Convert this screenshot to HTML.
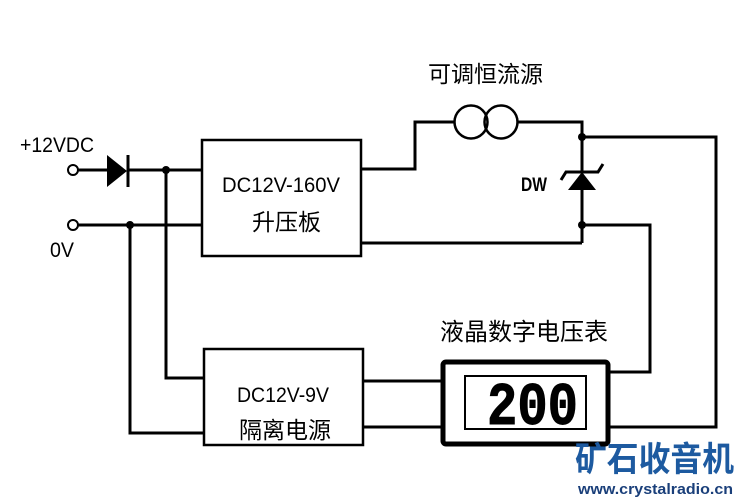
<!DOCTYPE html>
<html><head><meta charset="utf-8"><style>
html,body{margin:0;padding:0;background:#fff;}
svg{display:block;}
text{font-family:"Liberation Sans","Noto Sans CJK SC",sans-serif;fill:#000;}
</style></head><body>
<svg width="742" height="500" viewBox="0 0 742 500" xmlns="http://www.w3.org/2000/svg">
<g stroke="#000" stroke-width="3" fill="none">
<circle cx="73" cy="170" r="5" stroke-width="2"/>
<circle cx="73" cy="225" r="5" stroke-width="2"/>
<line x1="78" y1="170" x2="107" y2="170"/>
<line x1="128" y1="170" x2="202" y2="170"/>
<line x1="78" y1="225" x2="202" y2="225"/>
<line x1="128" y1="155" x2="128" y2="187"/>
<polyline points="166,170 166,378 204,378"/>
<polyline points="130,225 130,433 204,433"/>
<rect x="202" y="140" width="159" height="116" stroke-width="2.5"/>
<rect x="204" y="349" width="159" height="96" stroke-width="2.5"/>
<polyline points="362,169 415,169 415,122 455,122"/>
<polyline points="518,122 582,122 582,172"/>
<line x1="582" y1="190" x2="582" y2="243"/>
<line x1="362" y1="243" x2="582" y2="243"/>
<circle cx="471" cy="122" r="16.5" stroke-width="2.5"/>
<circle cx="501" cy="122" r="16.5" stroke-width="2.5"/>
<polyline points="582,137 716,137 716,427 610,427"/>
<polyline points="582,225 650,225 650,372 610,372"/>
<line x1="363" y1="381" x2="441" y2="381"/>
<line x1="363" y1="427" x2="441" y2="427"/>
<polyline points="561,180 566,172 598,172 603,164"/>
<rect x="443" y="362" width="165" height="82" rx="3" stroke-width="5"/>
<rect x="465" y="376" width="121" height="53" stroke-width="2"/>
</g>
<polygon points="107,155 107,187 127,171" fill="#000"/>
<polygon points="568,190 596,190 582,172" fill="#000"/>
<g fill="#000">
<circle cx="166" cy="170" r="4"/>
<circle cx="130" cy="225" r="4"/>
<circle cx="582" cy="137" r="4"/>
<circle cx="582" cy="225" r="4"/>
</g>
<text x="20" y="152" font-size="21" textLength="74" lengthAdjust="spacingAndGlyphs">+12VDC</text>
<text x="50" y="257" font-size="21" textLength="24" lengthAdjust="spacingAndGlyphs">0V</text>
<text x="222" y="192" font-size="21" textLength="118" lengthAdjust="spacingAndGlyphs">DC12V-160V</text>
<text x="252" y="230" font-size="23">升压板</text>
<text x="237" y="402" font-size="21" textLength="92" lengthAdjust="spacingAndGlyphs">DC12V-9V</text>
<text x="239" y="438" font-size="23">隔离电源</text>
<text x="428" y="82" font-size="23">可调恒流源</text>
<text x="521" y="191" font-size="19" font-weight="bold" textLength="26" lengthAdjust="spacingAndGlyphs">DW</text>
<text x="440" y="340" font-size="24">液晶数字电压表</text>
<text x="487" y="424" font-size="60" font-weight="bold" stroke="#000" stroke-width="1" textLength="91" lengthAdjust="spacingAndGlyphs" style="font-family:'Liberation Mono',monospace">200</text>
<text x="575" y="471" font-size="34" font-weight="bold" style="fill:#1d5aa0" textLength="159" lengthAdjust="spacingAndGlyphs">矿石收音机</text>
<text x="578" y="494" font-size="15" font-weight="bold" style="fill:#1a3f7a" textLength="155" lengthAdjust="spacingAndGlyphs">www.crystalradio.cn</text>
</svg>
</body></html>
